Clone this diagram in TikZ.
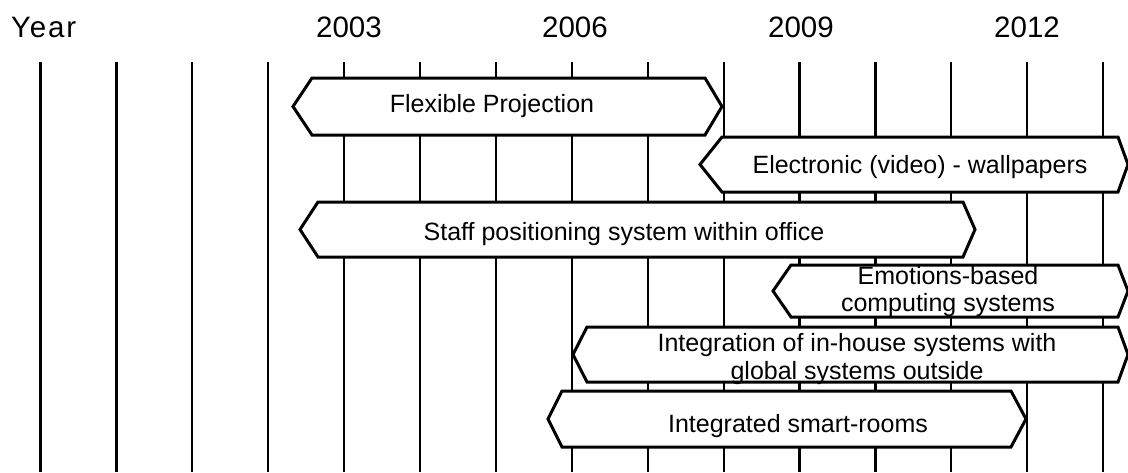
\documentclass[tikz,border=0pt]{standalone}
\usepackage{fontspec}
\setmainfont{Liberation Sans}
\begin{document}
\begin{tikzpicture}[x=1pt,y=-1pt,
  gridline/.style={line width=2.2pt},
  bar/.style={draw=black,fill=white,line width=3pt,line join=miter},
  yearlbl/.style={anchor=base,inner sep=0pt,font=\fontsize{29.5}{33}\selectfont},
  barlbl/.style={anchor=base,inner sep=0pt,font=\fontsize{25}{29}\selectfont}]
\useasboundingbox (0,0) rectangle (1128,472);

% one vertical line per year
\foreach \i in {0,...,14}
  \draw[gridline] ({40.5+75.9*\i},62) -- ({40.5+75.9*\i},472);

% year scale
\node[yearlbl,anchor=base west] (year) at (11,37) {\addfontfeature{LetterSpace=6}Year};
\node[yearlbl] (y2003) at (349,37) {2003};
\node[yearlbl] (y2006) at (575,37) {2006};
\node[yearlbl] (y2009) at (801,37) {2009};
\node[yearlbl] (y2012) at (1027,37) {2012};

% time bars: left tip, left corner, right corner, right tip, top, bottom
\newcommand\timebar[6]{%
  \path[bar] (#1,{(#5+#6)/2}) -- (#2,#5) -- (#3,#5) -- (#4,{(#5+#6)/2})
    -- (#3,#6) -- (#2,#6) -- cycle;}

\timebar{293}{312}{705}{722}{78}{135}
\node[barlbl] (flex) at (492,112) {Flexible Projection};

\timebar{700}{722}{1118}{1128}{137}{192}
\node[barlbl] (wall) at (920,173) {Electronic (video) - wallpapers};

\timebar{300}{318}{963}{975}{202}{257}
\node[barlbl] (staff) at (624,240) {Staff positioning system within office};

\timebar{773}{791}{1118}{1128}{265}{317}
\node[barlbl] (emoA) at (948,284) {Emotions-based};
\node[barlbl] (emoB) at (948,311) {computing systems};

\timebar{573}{587}{1118}{1128}{327}{382}
\node[barlbl] (intA) at (857,351) {Integration of in-house systems with};
\node[barlbl] (intB) at (857,379) {global systems outside};

\timebar{548}{562}{1011}{1026}{391}{447}
\node[barlbl] (smart) at (798,432) {Integrated smart-rooms};
\end{tikzpicture}
\end{document}
